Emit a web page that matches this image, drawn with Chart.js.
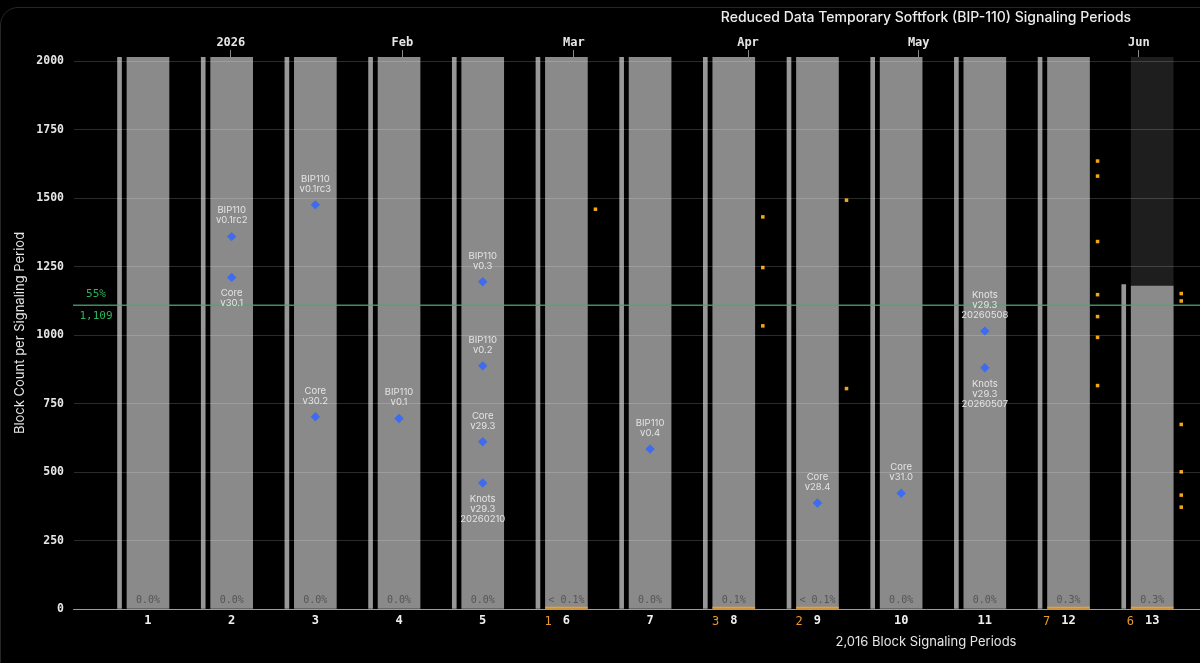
<!DOCTYPE html>
<html>
<head>
<meta charset="utf-8">
<script src="https://cdn.jsdelivr.net/npm/chart.js@4.4.1/dist/chart.umd.min.js"></script>
<style>
  html, body { margin: 0; background: #000; overflow: hidden; }
  #wrap { position: relative; width: 1852px; height: 663px; }
  #frame { position: absolute; left: 0; top: 7px; width: 1850px; height: 680px; border: 1px solid #262626; border-radius: 18px; pointer-events: none; }
</style>
</head>
<body>
<div id="wrap">
  <canvas id="chart" width="1852" height="663"></canvas>
  <div id="frame"></div>
</div>
<script>
// periods, blocks mined (thin bar) and blocks counted (wide bar)
const periods = [1, 2, 3, 4, 5, 6, 7, 8, 9, 10, 11, 12, 13];
const blocksMined = [2016, 2016, 2016, 2016, 2016, 2016, 2016, 2016, 2016, 2016, 2016, 2016, 1185];
const blocksCounted = [2016, 2016, 2016, 2016, 2016, 2016, 2016, 2016, 2016, 2016, 2016, 2016, 1179];
const pctLabels = ['0.0%', '0.0%', '0.0%', '0.0%', '0.0%', '< 0.1%', '0.0%', '0.1%', '< 0.1%', '0.0%', '0.0%', '0.3%', '0.3%'];

// signaling blocks: period + block height inside the period
const signalPeriod = [6, 8, 8, 8, 9, 9, 12, 12, 12, 12, 12, 12, 12, 13, 13, 13, 13, 13, 13];
const signalHeight = [1460, 1432, 1247, 1034, 1493, 805, 1636, 1581, 1342, 1148, 1068, 992, 816, 1152, 1125, 674, 501, 416, 372];

// software releases
const releasePeriod = [2, 2, 3, 3, 4, 5, 5, 5, 5, 7, 9, 10, 11, 11];
const releaseHeight = [1360, 1211, 1476, 702, 696, 1195, 888, 611, 460, 584, 387, 423, 1015, 881];
const releaseText = [
  ['BIP110', 'v0.1rc2'], ['Core', 'v30.1'],
  ['BIP110', 'v0.1rc3'], ['Core', 'v30.2'],
  ['BIP110', 'v0.1'],
  ['BIP110', 'v0.3'], ['BIP110', 'v0.2'], ['Core', 'v29.3'], ['Knots', 'v29.3', '20260210'],
  ['BIP110', 'v0.4'],
  ['Core', 'v28.4'],
  ['Core', 'v31.0'],
  ['Knots', 'v29.3', '20260508'], ['Knots', 'v29.3', '20260507']
];
const releaseBelow = [false, true, false, false, false, false, false, false, true, false, false, false, false, true];

// top time axis
const monthLabels = ['2026', 'Feb', 'Mar', 'Apr', 'May', 'Jun'];
const monthPos = [1.99, 4.04, 6.09, 8.17, 10.21, 12.84];

const yTicks = [0, 250, 500, 750, 1000, 1250, 1500, 1750, 2000];
const periodLength = 2016;
const currentPeriod = 13;
const threshold = 1109;
const thresholdPct = '55%';

// layout
const X_MIN = 0.104, X_MAX = 20.49;
const THIN_SHIFT = 0.34, DOT_SHIFT = 0.347;
const mono = "'DejaVu Sans Mono', monospace";
const sans = "Inter, 'Noto Sans', sans-serif";

const signalCount = periods.map(p => signalPeriod.filter(s => s === p).length);

const markLabels = {
  id: 'markLabels',
  afterDatasetsDraw(chart) {
    const ctx = chart.ctx, x = chart.scales.x, y = chart.scales.y, area = chart.chartArea;
    ctx.save();
    ctx.textAlign = 'center';
    ctx.textBaseline = 'middle';

    // percent in the foot of each bar
    ctx.font = '10px ' + mono;
    ctx.fillStyle = '#555';
    periods.forEach((p, i) => {
      ctx.fillText(pctLabels[i], x.getPixelForValue(p), y.getPixelForValue(0) - 9);
    });

    // 55% line
    const ty = y.getPixelForValue(threshold);
    ctx.strokeStyle = 'rgba(70,168,112,0.85)';
    ctx.lineWidth = 1.5;
    ctx.beginPath();
    ctx.moveTo(area.left, ty);
    ctx.lineTo(area.right, ty);
    ctx.stroke();
    ctx.fillStyle = '#2bb35e';
    ctx.font = '11px ' + mono;
    ctx.fillText(thresholdPct, area.left + 23, ty - 11);
    ctx.fillText(threshold.toLocaleString('en-US'), area.left + 23, ty + 11);

    // release names
    ctx.font = '9.5px ' + sans;
    ctx.fillStyle = '#e4e4e4';
    releasePeriod.forEach((p, i) => {
      const px = x.getPixelForValue(p), py = y.getPixelForValue(releaseHeight[i]);
      const lines = releaseText[i];
      lines.forEach((t, j) => {
        const ly = releaseBelow[i] ? py + 16 + j * 10 : py - 16 - (lines.length - 1 - j) * 10;
        ctx.fillText(t, px, ly);
      });
    });
    ctx.restore();
  },
  afterDraw(chart) {
    // signaling count next to the period number
    const ctx = chart.ctx, x = chart.scales.x;
    ctx.save();
    ctx.textAlign = 'right';
    ctx.textBaseline = 'middle';
    ctx.fillStyle = '#e89a2c';
    periods.forEach((p, i) => {
      if (!signalCount[i]) return;
      ctx.font = 'bold 12px ' + mono;
      const w = ctx.measureText(String(p)).width;
      ctx.font = '12px ' + mono;
      ctx.fillText(String(signalCount[i]), x.getPixelForValue(p) - w / 2 - 11, x.top + 13);
    });
    ctx.restore();
  }
};

const ctx = document.getElementById('chart').getContext('2d');
const chart = new Chart(ctx, {
  type: 'bar',
  data: {
    datasets: [
      {
        // current period backdrop
        data: [{ x: currentPeriod, y: periodLength }],
        backgroundColor: '#1e1e1e',
        barThickness: 42,
        grouped: false,
        order: 10
      },
      {
        data: periods.map((p, i) => ({ x: p - THIN_SHIFT, y: blocksMined[i] })),
        backgroundColor: '#979797',
        barThickness: 4,
        grouped: false,
        order: 9
      },
      {
        data: periods.map((p, i) => ({ x: p, y: blocksCounted[i] })),
        backgroundColor: '#8a8a8a',
        barThickness: 42,
        grouped: false,
        order: 8
      },
      {
        data: periods.map((p, i) => ({ x: p, y: signalCount[i] || null })),
        backgroundColor: '#eea02a',
        barThickness: 42,
        minBarLength: 2,
        grouped: false,
        order: 7
      },
      {
        type: 'scatter',
        data: releasePeriod.map((p, i) => ({ x: p, y: releaseHeight[i] })),
        pointStyle: 'rectRot',
        radius: 4.7,
        backgroundColor: '#3d6bf2',
        borderWidth: 0,
        order: 2
      },
      {
        type: 'scatter',
        data: signalPeriod.map((p, i) => ({ x: p + DOT_SHIFT, y: signalHeight[i] })),
        pointStyle: 'rect',
        radius: 2.5,
        backgroundColor: '#f2a516',
        borderWidth: 0,
        order: 1
      }
    ]
  },
  options: {
    responsive: false,
    animation: false,
    events: [],
    layout: { padding: 0 },
    plugins: {
      legend: { display: false },
      tooltip: { enabled: false },
      title: {
        display: true,
        text: 'Reduced Data Temporary Softfork (BIP-110) Signaling Periods',
        color: '#ececec',
        font: { family: sans, size: 14, weight: '500' },
        padding: { top: 9, bottom: 5 }
      }
    },
    scales: {
      x: {
        type: 'linear',
        min: X_MIN,
        max: X_MAX,
        offset: false,
        afterBuildTicks: s => { s.ticks = periods.map(p => ({ value: p })); },
        afterFit: s => { s.height = 54; },
        ticks: {
          autoSkip: false,
          maxRotation: 0,
          padding: 5,
          color: '#f0f0f0',
          font: { family: mono, size: 12, weight: 'bold' },
          callback: v => String(v)
        },
        grid: { display: false, drawTicks: false, offset: false },
        border: { color: '#8a8a8a', width: 1 },
        title: {
          display: true,
          text: '2,016 Block Signaling Periods',
          color: '#e6e6e6',
          font: { family: sans, size: 13 },
          padding: { top: 0, bottom: 13 }
        }
      },
      x2: {
        type: 'linear',
        position: 'top',
        min: X_MIN,
        max: X_MAX,
        offset: false,
        afterBuildTicks: s => { s.ticks = monthPos.map(v => ({ value: v })); },
        afterFit: s => { s.height = 26.2; },
        ticks: {
          autoSkip: false,
          maxRotation: 0,
          padding: 0,
          color: '#e6e6e6',
          font: { family: mono, size: 12, weight: 'bold' },
          callback: (v, i) => monthLabels[i]
        },
        grid: { drawOnChartArea: false, drawTicks: true, tickLength: 7, offset: false, color: '#8a8a8a' },
        border: { display: false }
      },
      y: {
        min: 0,
        max: periodLength,
        afterBuildTicks: s => { s.ticks = yTicks.map(v => ({ value: v })); },
        afterFit: s => { s.width = 73; },
        ticks: {
          padding: 9,
          color: '#e6e6e6',
          font: { family: mono, size: 11.5, weight: 'bold' },
          callback: v => String(v)
        },
        grid: { color: 'rgba(255,255,255,0.17)', drawTicks: false, z: 1 },
        border: { color: '#555', width: 1 },
        title: {
          display: true,
          text: 'Block Count per Signaling Period',
          color: '#e6e6e6',
          font: { family: sans, size: 13 },
          padding: { top: 12, bottom: 0 }
        }
      },
      // empty right axis, keeps the plot symmetric
      y2: {
        position: 'right',
        min: 0,
        max: periodLength,
        afterFit: s => { s.width = 73; },
        ticks: { display: false },
        grid: { display: false },
        border: { display: false }
      }
    }
  },
  plugins: [markLabels]
});
</script>
</body>
</html>
